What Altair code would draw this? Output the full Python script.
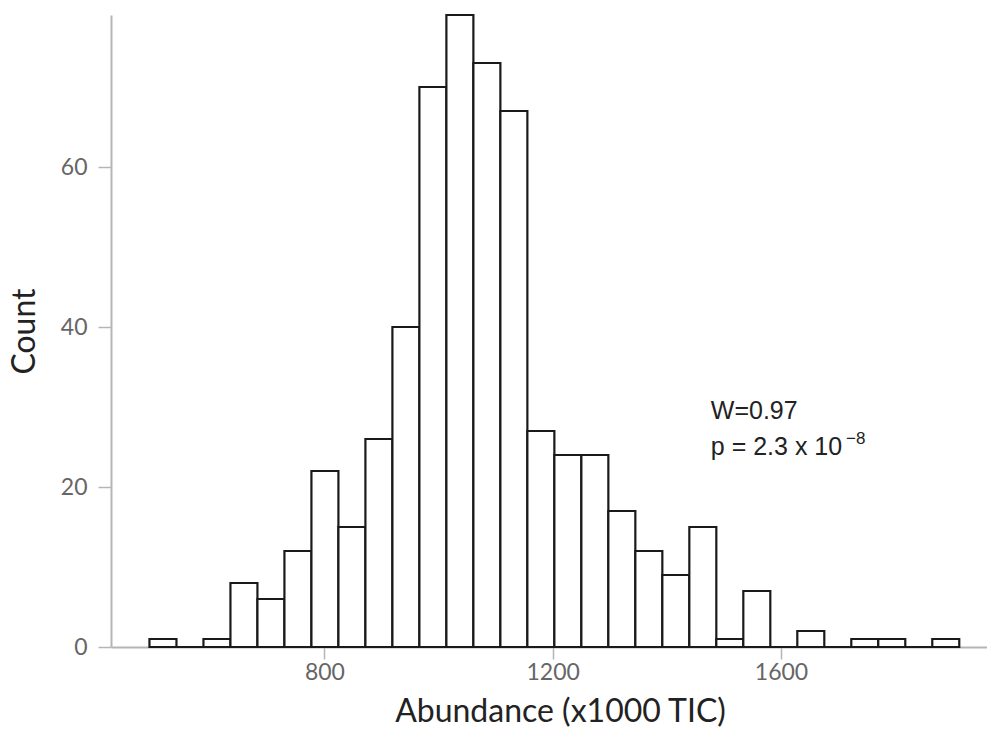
import altair as alt
import pandas as pd

# Histogram bins (x1000 TIC) and counts
bin_start = [493.4, 540.7, 588.0, 635.3, 682.6, 729.9, 777.2, 824.5, 871.8, 919.1,
             966.4, 1013.7, 1061.0, 1108.3, 1155.6, 1202.9, 1250.2, 1297.5, 1344.8, 1392.1,
             1439.4, 1486.7, 1534.0, 1581.3, 1628.6, 1675.9, 1723.2, 1770.5, 1817.8, 1865.1]
bin_end = [540.7, 588.0, 635.3, 682.6, 729.9, 777.2, 824.5, 871.8, 919.1, 966.4,
           1013.7, 1061.0, 1108.3, 1155.6, 1202.9, 1250.2, 1297.5, 1344.8, 1392.1, 1439.4,
           1486.7, 1534.0, 1581.3, 1628.6, 1675.9, 1723.2, 1770.5, 1817.8, 1865.1, 1912.4]
counts = [1, 0, 1, 8, 6, 12, 22, 15, 26, 40,
          70, 79, 73, 67, 27, 24, 24, 17, 12, 9,
          15, 1, 7, 0, 2, 0, 1, 1, 0, 1]

x_ticks = [800, 1200, 1600]
y_ticks = [0, 20, 40, 60]

# Annotation text (Shapiro-Wilk)
annot_main_x = [1477, 1477]
annot_main_y = [28.5, 24.0]
annot_main_text = ["W=0.97", "p = 2.3 x 10"]
annot_sup_x = [1714]
annot_sup_y = [25.4]
annot_sup_text = ["\u22128"]

df = pd.DataFrame({"start": bin_start, "end": bin_end, "count": counts})
df_main = pd.DataFrame({"x": annot_main_x, "y": annot_main_y, "t": annot_main_text})
df_sup = pd.DataFrame({"x": annot_sup_x, "y": annot_sup_y, "t": annot_sup_text})

xscale = alt.Scale(domain=[426, 1961], nice=False, zero=False)
yscale = alt.Scale(domain=[0, 79], nice=False)

bars = alt.Chart(df).mark_rect(fill="white", stroke="#1a1a1a", strokeWidth=2.2).encode(
    x=alt.X("start:Q", scale=xscale,
            axis=alt.Axis(values=x_ticks, format="d", title="Abundance (x1000 TIC)", tickSize=12,
                          labelPadding=2, titlePadding=12, titleX=449)),
    x2="end:Q",
    y=alt.Y("count:Q", scale=yscale,
            axis=alt.Axis(values=y_ticks, format="d", title="Count", tickSize=13,
                          labelPadding=11, titlePadding=19)),
    y2=alt.datum(0),
)

txt_main = alt.Chart(df_main).mark_text(
    align="left", baseline="alphabetic", font="Liberation Sans", fontSize=25, color="#222222"
).encode(x=alt.X("x:Q", scale=xscale), y=alt.Y("y:Q", scale=yscale), text="t:N")

txt_sup = alt.Chart(df_sup).mark_text(
    align="left", baseline="alphabetic", font="Liberation Sans", fontSize=17, color="#222222"
).encode(x=alt.X("x:Q", scale=xscale), y=alt.Y("y:Q", scale=yscale), text="t:N")

chart = alt.layer(bars, txt_main, txt_sup).properties(
    width=876, height=632,
    autosize=alt.AutoSizeParams(type="none"),
    padding={"left": 111, "top": 15, "right": 0, "bottom": 87},
    background="white",
).configure_view(stroke=None).configure_axis(
    grid=False,
    domainColor="#b5b5b5", domainWidth=2,
    tickColor="#b5b5b5", tickWidth=1.5,
    labelColor="#666666", labelFont="Lato", labelFontSize=23,
    titleColor="#222222", titleFont="Lato", titleFontSize=32, titleFontWeight="normal",
)

chart.save("out.html", embed_options={"renderer": "svg", "actions": False})
